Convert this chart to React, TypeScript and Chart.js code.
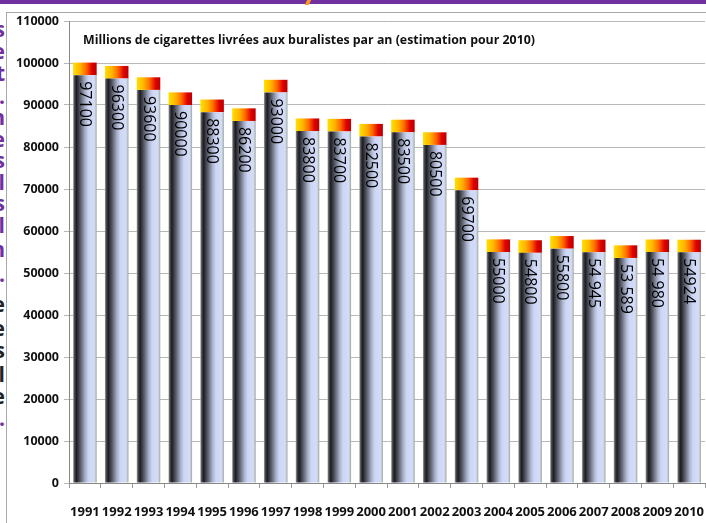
import React, { useEffect, useRef } from "react";
import { Chart, registerables } from "chart.js";

Chart.register(...registerables);

const years = ["1991", "1992", "1993", "1994", "1995", "1996", "1997", "1998", "1999", "2000", "2001", "2002", "2003", "2004", "2005", "2006", "2007", "2008", "2009", "2010"];
const deliveries = [97100, 96300, 93600, 90000, 88300, 86200, 93000, 83800, 83700, 82500, 83500, 80500, 69700, 55000, 54800, 55800, 54945, 53589, 54980, 54924];
const barLabels = ["97100", "96300", "93600", "90000", "88300", "86200", "93000", "83800", "83700", "82500", "83500", "80500", "69700", "55000", "54800", "55800", "54 945", "53 589", "54 980", "54924"];
const capValues = [3000, 3000, 3000, 3000, 3000, 3000, 3000, 3000, 3000, 3000, 3000, 3000, 3000, 3000, 3000, 3000, 3000, 3000, 3000, 3000];
const yMin = 0;
const yMax = 110000;
const yStep = 10000;
const titleText = "Millions de cigarettes livrées aux buralistes par an (estimation pour 2010)";

const sideLetters: { y: number; ch: string; c: string }[] = [
  { y: 28, ch: "s", c: "#7030a0" },
  { y: 50, ch: "e", c: "#7030a0" },
  { y: 72, ch: "t", c: "#7030a0" },
  { y: 95, ch: ".", c: "#7030a0" },
  { y: 116, ch: "n", c: "#7030a0" },
  { y: 138, ch: "e", c: "#7030a0" },
  { y: 159, ch: "s", c: "#7030a0" },
  { y: 181, ch: "l", c: "#7030a0" },
  { y: 202, ch: "s", c: "#7030a0" },
  { y: 224, ch: "l", c: "#7030a0" },
  { y: 248, ch: "n", c: "#7030a0" },
  { y: 273, ch: ".", c: "#7030a0" },
  { y: 303, ch: "e", c: "#222" },
  { y: 327, ch: "e", c: "#222" },
  { y: 349, ch: "s", c: "#222" },
  { y: 373, ch: "l", c: "#222" },
  { y: 395, ch: "e", c: "#222" },
  { y: 417, ch: ".", c: "#7030a0" },
];

const BAR_PCT = 0.74;

function barGradient(c: any, stops: [number, string][], fallback: string) {
  const chart = c.chart;
  const xs = chart.scales && chart.scales.x;
  if (!xs || c.dataIndex == null || !isFinite(xs.width) || xs.width <= 0) return fallback;
  const cx = xs.getPixelForValue(c.dataIndex);
  const w = (xs.width / years.length) * BAR_PCT;
  const g = chart.ctx.createLinearGradient(cx - w / 2, 0, cx + w / 2, 0);
  stops.forEach(([o, col]) => g.addColorStop(o, col));
  return g;
}

const bodyStops: [number, string][] = [
  [0, "#a4a4a4"],
  [0.06, "#4a4a4e"],
  [0.14, "#1c1c22"],
  [0.32, "#5c606c"],
  [0.52, "#aab2cc"],
  [0.66, "#cdd6f4"],
  [0.9, "#d4dcf8"],
  [0.95, "#bcc4cc"],
  [1, "#98a898"],
];

const capStops: [number, string][] = [
  [0, "#ffe000"],
  [0.3, "#ffb400"],
  [0.55, "#ff6a00"],
  [0.8, "#e00000"],
  [1, "#b80000"],
];

const labelPlugin = {
  id: "barLabels",
  afterDatasetsDraw(chart: any) {
    const ctx = chart.ctx;
    const meta = chart.getDatasetMeta(0);
    ctx.save();
    ctx.fillStyle = "#000";
    ctx.font = "500 16px 'Open Sans'";
    ctx.textAlign = "left";
    ctx.textBaseline = "alphabetic";
    meta.data.forEach((el: any, i: number) => {
      const m = ctx.measureText(barLabels[i]);
      const off = (m.actualBoundingBoxAscent - m.actualBoundingBoxDescent) / 2;
      ctx.save();
      ctx.translate(el.x + 1, el.y + 6);
      ctx.rotate(Math.PI / 2);
      ctx.fillText(barLabels[i], 0, off);
      ctx.restore();
    });
    // title
    const area = chart.chartArea;
    ctx.font = "bold 13px 'Open Sans'";
    ctx.fillStyle = "#111";
    ctx.textBaseline = "middle";
    const target = 452;
    const wMeas = ctx.measureText(titleText).width;
    ctx.translate(area.left + 14, area.top + 19);
    if (wMeas > target) ctx.scale(target / wMeas, 1);
    ctx.fillText(titleText, 0, 0);
    ctx.restore();
  },
};

export default function App() {
  const ref = useRef<HTMLCanvasElement | null>(null);
  useEffect(() => {
    if (!ref.current) return;
    const chart = new Chart(ref.current, {
      type: "bar",
      data: {
        labels: years,
        datasets: [
          {
            data: deliveries,
            backgroundColor: (c: any) => barGradient(c, bodyStops, "#c8d0f0"),
            borderWidth: 0,
            categoryPercentage: 1,
            barPercentage: BAR_PCT,
          },
          {
            data: capValues,
            backgroundColor: (c: any) => barGradient(c, capStops, "#ff6000"),
            borderWidth: 0,
            categoryPercentage: 1,
            barPercentage: BAR_PCT,
          },
        ],
      },
      options: {
        responsive: false,
        animation: false,
        layout: { padding: { top: 21, left: 0, right: 0, bottom: 0 } },
        plugins: { legend: { display: false }, tooltip: { enabled: false }, title: { display: false } },
        scales: {
          x: {
            stacked: true,
            grid: { display: true, drawOnChartArea: false, drawTicks: true, tickLength: 5, color: "#999", offset: true },
            border: { display: true, color: "#888" },
            ticks: {
              color: "#111",
              font: { family: "'Open Sans'", size: 13, weight: "bold" },
              padding: 16,
              maxRotation: 0,
              autoSkip: false,
            },
            afterFit: (s: any) => { s.height = 40; },
          },
          y: {
            stacked: true,
            min: yMin,
            max: yMax,
            grid: { color: "#b8b8b8", tickLength: 5, drawTicks: true },
            border: { display: true, color: "#888" },
            ticks: {
              stepSize: yStep,
              color: "#111",
              font: { family: "'Open Sans'", size: 12.5, weight: "bold" },
              padding: 5,
              callback: (v: any) => String(v),
            },
            afterFit: (s: any) => { s.width = 69; },
          },
        },
      },
      plugins: [labelPlugin],
    });
    return () => chart.destroy();
  }, []);

  return (
    <div style={{ position: "absolute", left: 0, top: 0, width: 706, height: 523, overflow: "hidden", background: "#fff" }}>
      <div style={{ position: "absolute", left: 0, top: 0, width: 706, height: 4, background: "#7030a0" }} />
      <div style={{ position: "absolute", left: 306, top: 0, width: 4, height: 5, background: "#ff9a20", transform: "skewX(-25deg)" }} />
      <div style={{ position: "absolute", left: 6, top: 12, width: 720, height: 540, borderLeft: "1px solid #a8a8a8", borderTop: "1px solid #a8a8a8" }} />
      {sideLetters.map((l, i) => (
        <div
          key={i}
          style={{
            position: "absolute",
            left: -21,
            width: 26,
            top: l.y - 13,
            height: 26,
            lineHeight: "26px",
            textAlign: "right",
            font: "bold 21px 'Open Sans'",
            color: l.c,
          }}
        >
          {l.ch}
        </div>
      ))}
      <canvas ref={ref} width={720} height={523} style={{ position: "absolute", left: 0, top: 0, width: 720, height: 523 }} />
    </div>
  );
}
